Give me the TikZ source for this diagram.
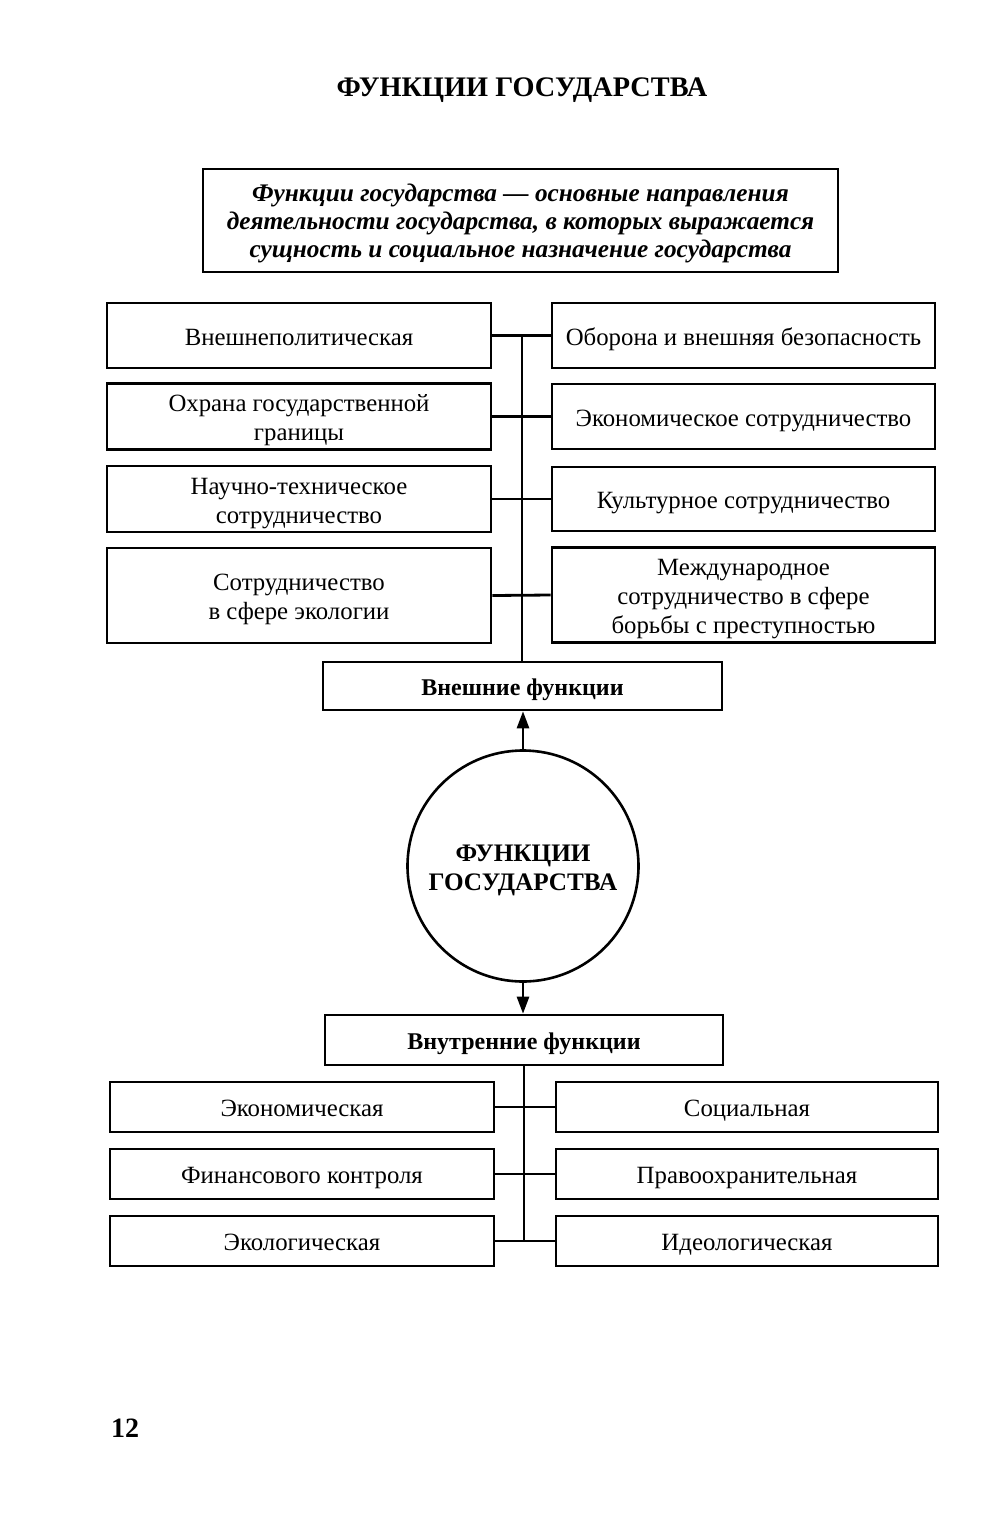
\documentclass[tikz,border=0pt]{standalone}
\usepackage{fontspec}
\setmainfont{Liberation Serif}
\usetikzlibrary{arrows.meta}
\newcommand{\topstrut}{\rule[-8.7pt]{0pt}{37.2pt}}
\begin{document}
\begin{tikzpicture}[x=1pt,y=-1pt,
  box/.style={draw,line width=2.6pt,inner sep=0pt,align=center,font=\fontsize{24.8}{29}\selectfont,
    execute at begin node={\topstrut},execute at end node={\strut}},
  bbox/.style={box,font=\bfseries\fontsize{24}{29}\selectfont},
  conn/.style={line width=2.8pt},
  arr/.style={line width=2.6pt,-{Triangle[length=17pt,width=12pt]}}]
\useasboundingbox (0,0) rectangle (1000,1516);
\node[font=\bfseries\fontsize{28.3}{32}\selectfont] (title) at (522,90) {ФУНКЦИИ ГОСУДАРСТВА};
\node[box,minimum width=635,minimum height=103,font=\bfseries\itshape\fontsize{25.3}{28}\selectfont] (def) at (520.5,220.5)
 {\rule[-8pt]{0pt}{34pt}Функции государства — основные направления\\деятельности государства, в которых выражается\\сущность и социальное назначение государства\strut};
% left column
\node[box,minimum width=384,minimum height=65] (l1) at (299,335.5) {Внешнеполитическая};
\node[box,minimum width=384,minimum height=65] (l2) at (299,416.5) {\topstrut Охрана государственной\\границы\strut};
\node[box,minimum width=384,minimum height=64] (l3) at (299,499) {\topstrut Научно-техническое\\сотрудничество\strut};
\node[box,minimum width=384,minimum height=95] (l4) at (299,595.5) {\topstrut Сотрудничество\\в сфере экологии\strut};
% right column
\node[box,minimum width=383,minimum height=65] (r1) at (743.5,335.5) {Оборона и внешняя безопасность};
\node[box,minimum width=383,minimum height=65] (r2) at (743.5,416.5) {Экономическое сотрудничество};
\node[box,minimum width=383,minimum height=64] (r3) at (743.5,499) {Культурное сотрудничество};
\node[box,minimum width=383,minimum height=94] (r4) at (743.5,595) {\topstrut Международное\\сотрудничество в сфере\\борьбы с преступностью\strut};
\node[bbox,minimum width=399,minimum height=48] (ext) at (522.5,686) {Внешние функции};
\node[draw,circle,line width=2.6pt,minimum size=231,inner sep=0pt,align=center,font=\bfseries\fontsize{25.2}{29}\selectfont] (c) at (523,866) {\topstrut ФУНКЦИИ\\ГОСУДАРСТВА\strut};
\node[bbox,minimum width=398,minimum height=50] (int) at (524,1040) {Внутренние функции};
% lower
\node[box,minimum width=384,minimum height=50] (a1) at (302,1107) {Экономическая};
\node[box,minimum width=384,minimum height=50] (a2) at (302,1174) {Финансового контроля};
\node[box,minimum width=384,minimum height=50] (a3) at (302,1241) {Экологическая};
\node[box,minimum width=382,minimum height=50] (b1) at (747,1107) {Социальная};
\node[box,minimum width=382,minimum height=50] (b2) at (747,1174) {Правоохранительная};
\node[box,minimum width=382,minimum height=50] (b3) at (747,1241) {Идеологическая};
\node[font=\bfseries\fontsize{28}{32}\selectfont] (page) at (125,1428) {12};
% connectors top
\foreach \i in {1,2,3,4}{\draw[conn] (l\i.east) -- (r\i.west);}
\coordinate (st) at (522,335.5);
\draw[conn] (st) -- (st |- ext.north);
\draw[arr] (c.north) -- (c.north |- ext.south);
\draw[arr] (c.south) -- (c.south |- int.north);
% connectors bottom
\foreach \i in {1,2,3}{\draw[conn] (a\i.east) -- (b\i.west);}
\coordinate (sb) at (524,1241);
\draw[conn] (int.south) -- (sb);
\end{tikzpicture}
\end{document}
